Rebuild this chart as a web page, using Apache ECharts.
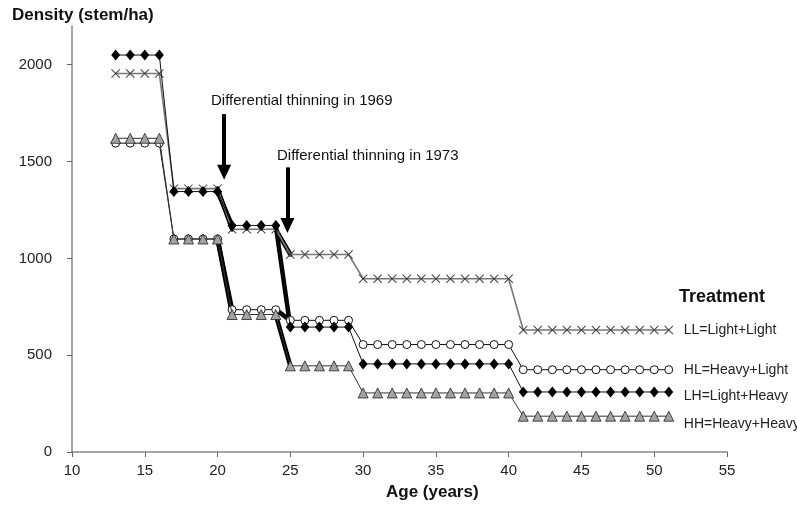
<!DOCTYPE html>
<html>
<head>
<meta charset="utf-8">
<script src="https://cdn.jsdelivr.net/npm/echarts@6/dist/echarts.min.js"></script>
<style>
  html, body { margin: 0; padding: 0; background: #fff; }
  #chart { width: 797px; height: 508px; }
</style>
</head>
<body>
<div id="chart"></div>
<script>
// Stand age (years) at each inventory
const ages = [13, 14, 15, 16, 17, 18, 19, 20, 21, 22, 23, 24, 25, 26, 27, 28, 29,
  30, 31, 32, 33, 34, 35, 36, 37, 38, 39, 40, 41, 42, 43, 44, 45, 46, 47, 48, 49, 50, 51];

// Stand density (stems/ha) by treatment
const densityLL = [1955, 1955, 1955, 1955, 1360, 1360, 1360, 1360, 1150, 1150, 1150, 1150,
  1020, 1020, 1020, 1020, 1020, 895, 895, 895, 895, 895, 895, 895, 895, 895, 895, 895,
  630, 630, 630, 630, 630, 630, 630, 630, 630, 630, 630];
const densityHL = [1595, 1595, 1595, 1595, 1100, 1100, 1100, 1100, 735, 735, 735, 735,
  680, 680, 680, 680, 680, 555, 555, 555, 555, 555, 555, 555, 555, 555, 555, 555,
  425, 425, 425, 425, 425, 425, 425, 425, 425, 425, 425];
const densityLH = [2050, 2050, 2050, 2050, 1345, 1345, 1345, 1345, 1170, 1170, 1170, 1170,
  645, 645, 645, 645, 645, 455, 455, 455, 455, 455, 455, 455, 455, 455, 455, 455,
  310, 310, 310, 310, 310, 310, 310, 310, 310, 310, 310];
const densityHH = [1620, 1620, 1620, 1620, 1100, 1100, 1100, 1100, 710, 710, 710, 710,
  445, 445, 445, 445, 445, 305, 305, 305, 305, 305, 305, 305, 305, 305, 305, 305,
  185, 185, 185, 185, 185, 185, 185, 185, 185, 185, 185];

const treatmentLabels = ['LL=Light+Light', 'HL=Heavy+Light', 'LH=Light+Heavy', 'HH=Heavy+Heavy'];

// Ages just before each differential thinning (1969, 1973)
const thinningStartAges = [20, 24];
const thinningNotes = ['Differential thinning in 1969', 'Differential thinning in 1973'];
// Arrow shafts: [age, top density, tip density]
const arrowAges = [20.45, 24.8];
const arrowTops = [1745, 1470];
const arrowTips = [1445, 1170];

const yTicks = [0, 500, 1000, 1500, 2000];

const FONT = 'Liberation Sans, Arial, sans-serif';
const crossPath = 'path://M0,0.8 L0.8,0 L5,4.2 L9.2,0 L10,0.8 L5.8,5 L10,9.2 L9.2,10 L5,5.8 L0.8,10 L0,9.2 L4.2,5 Z';

const styles = [
  { symbol: crossPath, size: 9, item: { color: '#444' }, line: { color: '#777', width: 1.6 }, dy: 0 },
  { symbol: 'circle', size: 8, item: { color: '#fff', borderColor: '#111', borderWidth: 1 }, line: { color: '#111', width: 1 }, dy: 0 },
  { symbol: 'diamond', size: [9, 11], item: { color: '#000' }, line: { color: '#111', width: 1 }, dy: 4 },
  { symbol: 'triangle', size: 10, item: { color: '#a3a3a3', borderColor: '#222', borderWidth: 0.8 }, line: { color: '#333', width: 1 }, dy: 8 }
];
const allDensity = [densityLL, densityHL, densityLH, densityHH];

const series = [];

// Heavy connectors for the two differential thinnings
allDensity.forEach((vals) => {
  thinningStartAges.forEach((a) => {
    const i = ages.indexOf(a);
    series.push({
      type: 'line',
      silent: true,
      symbol: 'none',
      z: 2,
      lineStyle: { color: '#000', width: 4.5, cap: 'round' },
      data: [[ages[i], vals[i]], [ages[i + 1], vals[i + 1]]]
    });
  });
});

// Treatment trajectories
allDensity.forEach((vals, s) => {
  const st = styles[s];
  series.push({
    name: treatmentLabels[s],
    type: 'line',
    z: 3 + s,
    symbol: st.symbol,
    symbolSize: st.size,
    itemStyle: st.item,
    lineStyle: st.line,
    data: ages.map((a, i) => [a, vals[i]]),
    endLabel: {
      show: true,
      formatter: treatmentLabels[s],
      color: '#222',
      fontFamily: FONT,
      fontSize: 14,
      distance: 15,
      offset: [0, st.dy]
    }
  });
});

// Arrows marking the thinnings
series.push({
  type: 'line',
  data: [],
  silent: true,
  markLine: {
    silent: true,
    symbol: ['none', 'triangle'],
    symbolSize: [14, 15],
    label: { show: false },
    lineStyle: { color: '#000', width: 4, type: 'solid' },
    itemStyle: { color: '#000' },
    data: arrowAges.map((a, k) => [
      { coord: [a, arrowTops[k]] },
      { coord: [a, arrowTips[k]] }
    ])
  }
});

const chart = echarts.init(document.getElementById('chart'), null, { renderer: 'canvas' });
chart.setOption({
  animation: false,
  backgroundColor: '#fff',
  textStyle: { fontFamily: FONT },
  grid: { left: 72, right: 70, top: 26, bottom: 56 },
  xAxis: {
    type: 'value',
    min: 10,
    max: 55,
    interval: 5,
    axisLine: { lineStyle: { color: '#888', width: 1.5 } },
    axisTick: { show: true, length: 5, lineStyle: { color: '#666' } },
    axisLabel: { color: '#222', fontSize: 15, margin: 11 },
    splitLine: { show: false }
  },
  yAxis: {
    type: 'value',
    min: 0,
    max: 2200,
    axisLine: { show: true, lineStyle: { color: '#888', width: 1.5 } },
    axisTick: { show: true, length: 5, customValues: yTicks, lineStyle: { color: '#666' } },
    axisLabel: { color: '#222', fontSize: 15, margin: 20, customValues: yTicks, formatter: (v) => String(v) },
    splitLine: { show: false }
  },
  graphic: [
    { type: 'text', left: 12, top: 7, style: { text: 'Density (stem/ha)', font: 'bold 17px ' + FONT, fill: '#111' } },
    { type: 'text', left: 386, top: 484, style: { text: 'Age (years)', font: 'bold 17px ' + FONT, fill: '#111' } },
    { type: 'text', left: 679, top: 288, style: { text: 'Treatment', font: 'bold 18px ' + FONT, fill: '#111' } },
    { type: 'text', left: 211, top: 93, style: { text: thinningNotes[0], font: '15px ' + FONT, fill: '#111' } },
    { type: 'text', left: 277, top: 148, style: { text: thinningNotes[1], font: '15px ' + FONT, fill: '#111' } }
  ],
  series: series
});
</script>
</body>
</html>
